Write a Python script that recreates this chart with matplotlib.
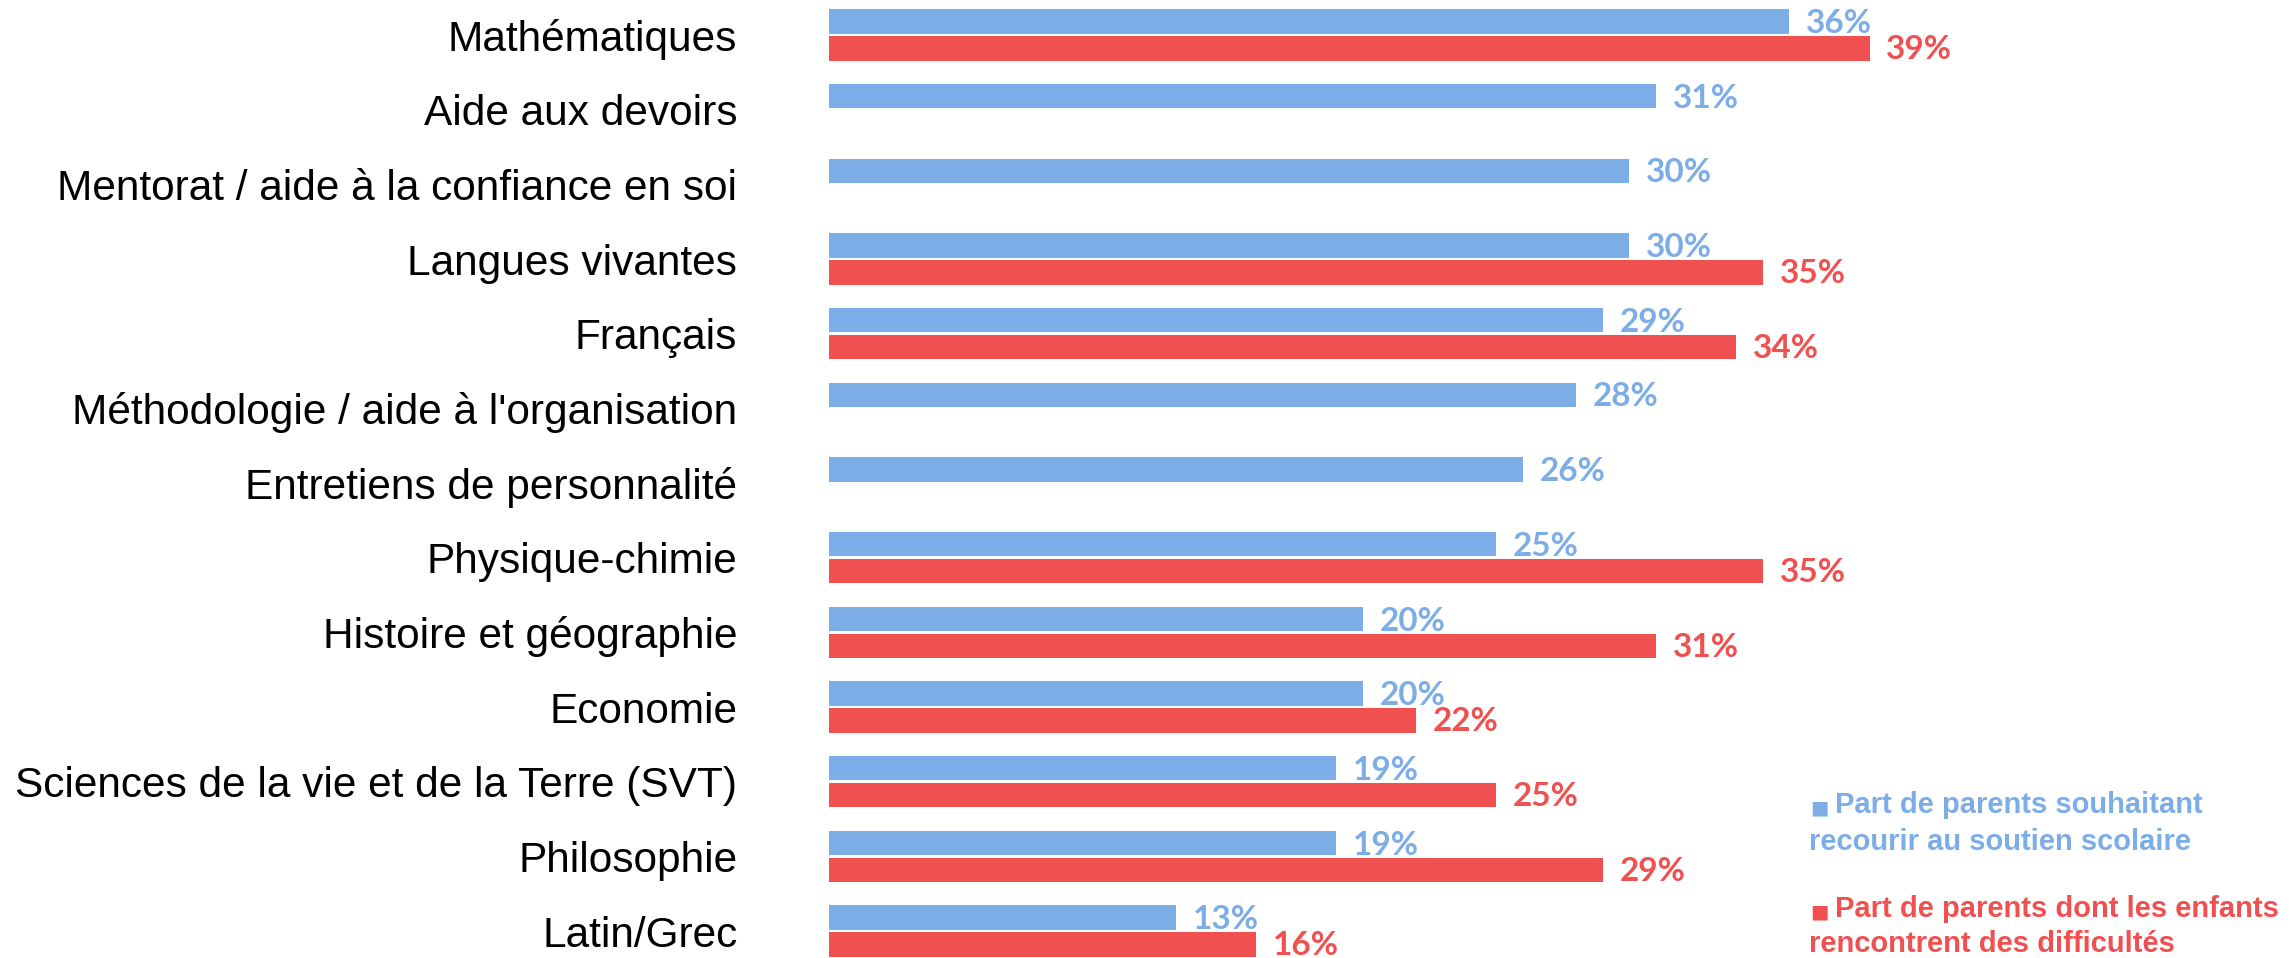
import matplotlib
matplotlib.use("Agg")
import matplotlib.pyplot as plt
import numpy as np

categories = [
    "Mathématiques",
    "Aide aux devoirs",
    "Mentorat / aide à la confiance en soi",
    "Langues vivantes",
    "Français",
    "Méthodologie / aide à l'organisation",
    "Entretiens de personnalité",
    "Physique-chimie",
    "Histoire et géographie",
    "Economie",
    "Sciences de la vie et de la Terre (SVT)",
    "Philosophie",
    "Latin/Grec",
]
souhait = [36, 31, 30, 30, 29, 28, 26, 25, 20, 20, 19, 19, 13]
difficultes = [39, None, None, 35, 34, None, None, 35, 31, 22, 25, 29, 16]

legend_blue = ["Part de parents souhaitant", "recourir au soutien scolaire"]
legend_red = ["Part de parents dont les enfants", "rencontrent des difficultés"]

BLUE = "#7DADE6"
RED = "#F05050"

W, H = 2296, 958
fig = plt.figure(figsize=(W / 100, H / 100), dpi=100)
px_per_pct = 26.68
xmax = 50
left = 829
ax = fig.add_axes([left / W, 0, xmax * px_per_pct / W, 1])

row = 74.67
top_center = 35
ax.set_ylim((H - top_center) / row, -top_center / row)
ax.set_xlim(0, xmax)

y = np.arange(len(categories))
bh = 0.325
off = 0.18

lbl_kw = dict(textcoords="offset points", va="center", ha="left", fontsize=24,
              fontfamily="Lato", fontweight="bold")

for i, (b, r) in enumerate(zip(souhait, difficultes)):
    ax.barh(i - off, b, height=bh, color=BLUE)
    ax.annotate(f"{b}%", (b, i - off), xytext=(12, -1.5), color=BLUE, **lbl_kw)
    if r is not None:
        ax.barh(i + off, r, height=bh, color=RED)
        ax.annotate(f"{r}%", (r, i + off), xytext=(12, -1), color=RED, **lbl_kw)

ax.set_yticks(y)
ax.set_yticklabels(categories, fontsize=30.5, fontfamily="Liberation Sans")
ax.tick_params(axis="y", length=0, pad=66)
ax.set_xticks([])
for s in ax.spines.values():
    s.set_visible(False)
ax.patch.set_alpha(0)

def ftext(xp, yp, s, color, size=21, family="Liberation Sans", weight="bold"):
    fig.text(xp / W, 1 - yp / H, s, color=color, fontsize=size, fontfamily=family,
             fontweight=weight, va="center", ha="left")

sq_x = 1810
tx = 1835
ftext(sq_x, 808, "■", BLUE, size=14, family="DejaVu Sans")
ftext(tx, 805, legend_blue[0], BLUE)
ftext(sq_x - 1, 842, legend_blue[1], BLUE)
ftext(sq_x, 912, "■", RED, size=14, family="DejaVu Sans")
ftext(tx, 909, legend_red[0], RED)
ftext(sq_x - 1, 944, legend_red[1], RED)

fig.savefig("out.png", dpi=100)
